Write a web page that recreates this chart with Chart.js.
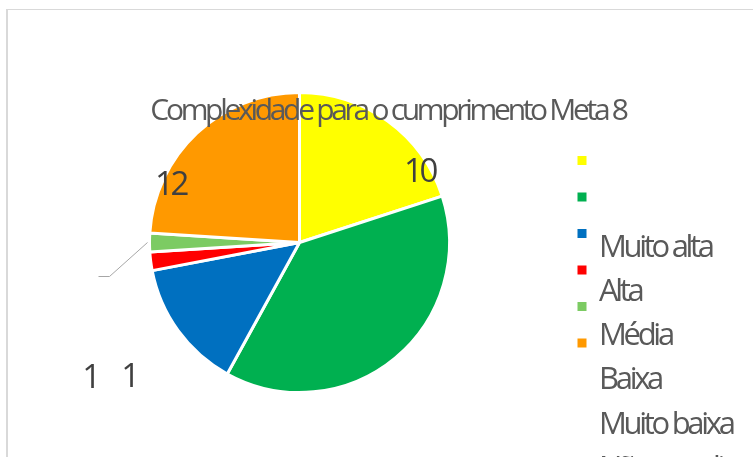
<!DOCTYPE html>
<html>
<head>
<meta charset="utf-8">
<script src="https://cdn.jsdelivr.net/npm/chart.js@4.4.1/dist/chart.umd.min.js"></script>
<style>
  html, body { margin: 0; padding: 0; background: #fff; overflow: hidden; }
</style>
</head>
<body>
<canvas id="chart" width="753" height="457"></canvas>
<script>
const chartTitle = 'Complexidade para o cumprimento Meta 8';
const sliceValues = [10, 19, 7, 1, 1, 12];
const sliceColors = ['#FFFF00', '#00B050', '#0070C0', '#FF0000', '#7CCB63', '#FF9900'];
const legendTexts = ['Muito alta', 'Alta', 'Média', 'Baixa', 'Muito baixa', 'Não se aplica'];
const shownLabels = [true, false, false, true, true, true];

// where Excel dropped each value label, relative to the pie centre in radius units
const labelSpots = [[0.79, -0.403], null, null, [-1.147, 0.963], [-1.407, 0.97], [-0.87, -0.317]];

const FONT = '"Open Sans", "Noto Sans", sans-serif';

const excelLook = {
  id: 'excelLook',
  beforeDraw(chart) {
    const ctx = chart.ctx;
    ctx.save();
    ctx.fillStyle = '#d9d9d9';
    ctx.fillRect(6, 9, 2, chart.height);
    ctx.fillRect(6, 9, chart.width, 1);
    ctx.restore();
  },
  afterDatasetsDraw(chart) {
    const ctx = chart.ctx;
    const arcs = chart.getDatasetMeta(0).data;
    const cx = arcs[0].x, cy = arcs[0].y, r = arcs[0].outerRadius;
    ctx.save();
    if ('letterSpacing' in ctx) ctx.letterSpacing = '-3.3px';

    // leader line for the small light green slice
    const lg = arcs[4];
    const mid = (lg.startAngle + lg.endAngle) / 2;
    const sx = cx + Math.cos(mid) * (r + 2), sy = cy + Math.sin(mid) * (r + 2);
    ctx.strokeStyle = '#a6a6a6';
    ctx.lineWidth = 1;
    ctx.beginPath();
    ctx.moveTo(sx, sy);
    ctx.lineTo(sx - 38, sy + 34);
    ctx.lineTo(sx - 49, sy + 34);
    ctx.stroke();

    // value labels
    ctx.fillStyle = '#404040';
    ctx.font = '33px ' + FONT;
    ctx.textAlign = 'center';
    ctx.textBaseline = 'alphabetic';
    sliceValues.forEach((v, i) => {
      if (!shownLabels[i] || !labelSpots[i]) return;
      ctx.fillText(String(v), cx + labelSpots[i][0] * r + 1.5, cy + labelSpots[i][1] * r);
    });

    // title, drawn over the pie like the original
    ctx.fillStyle = '#595959';
    ctx.font = '30px ' + FONT;
    ctx.fillText(chartTitle, 388, 119.5);

    // legend: swatches and texts do not line up in the original
    ctx.textAlign = 'left';
    ctx.font = '31px ' + FONT;
    sliceColors.forEach((c, i) => {
      ctx.fillStyle = c;
      ctx.fillRect(577.5, 156 + i * 36.5, 9, 9);
    });
    ctx.fillStyle = '#595959';
    legendTexts.forEach((t, i) => {
      ctx.fillText(t, 599, 256.7 + i * 44.2);
    });
    ctx.restore();
  }
};

new Chart(document.getElementById('chart'), {
  type: 'pie',
  data: {
    labels: sliceColors.map((c, i) => 'slice ' + (i + 1)),
    datasets: [{
      data: sliceValues,
      backgroundColor: sliceColors,
      borderColor: '#ffffff',
      borderWidth: 3,
    }],
  },
  options: {
    responsive: false,
    animation: false,
    devicePixelRatio: 1,
    radius: 150,
    layout: { padding: { left: 148, right: 302, top: 91, bottom: 63 } },
    plugins: {
      legend: { display: false },
      title: { display: false },
      tooltip: { enabled: false },
    },
  },
  plugins: [excelLook],
});
</script>
</body>
</html>
